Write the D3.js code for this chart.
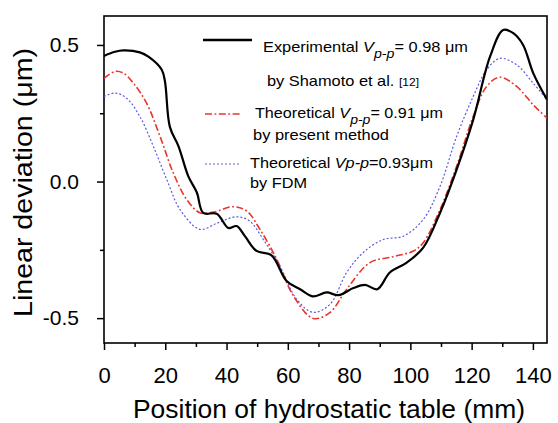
<!DOCTYPE html>
<html>
<head>
<meta charset="utf-8">
<script src="https://cdn.jsdelivr.net/npm/d3@7"></script>
<style>
  body { margin: 0; background: #fff; }
  svg { font-family: "Liberation Sans", Arial, sans-serif; }
</style>
</head>
<body>
<div id="chart"></div>
<script>
// data (x = position in mm, y = deviation in um)
var expX = [0, 3.6, 6.3, 11.7, 14.5, 18.8, 19.9, 21.5, 24.3, 27.5, 30.3, 32.4, 36.8, 40.6, 43.3, 46, 49.8, 54.7, 59.6, 64, 68.1, 72.7, 76.5, 81.4, 85.2, 89.2, 93.3, 98.8, 104.2, 109.7, 115.1, 120.5, 126, 130.3, 133.6, 136.8, 140.1, 144.6];
var expY = [0.46, 0.475, 0.48, 0.473, 0.457, 0.41, 0.366, 0.20, 0.13, 0.02, -0.04, -0.115, -0.118, -0.17, -0.163, -0.2, -0.254, -0.27, -0.364, -0.394, -0.42, -0.406, -0.416, -0.39, -0.378, -0.394, -0.333, -0.297, -0.242, -0.114, 0.044, 0.226, 0.457, 0.555, 0.543, 0.5, 0.397, 0.30];

var presX = [0, 3.6, 6.3, 9.6, 13.9, 18.3, 22.6, 27, 31.3, 35.7, 42.2, 46.6, 50.9, 56.4, 61.8, 68.3, 73.8, 79.2, 86.8, 94.4, 101, 104.2, 109.7, 115.1, 120.5, 124.9, 129.2, 134.7, 140.1, 144.6];
var presY = [0.378, 0.403, 0.397, 0.36, 0.287, 0.165, 0.032, -0.066, -0.114, -0.112, -0.092, -0.108, -0.175, -0.285, -0.418, -0.501, -0.479, -0.394, -0.297, -0.275, -0.254, -0.224, -0.102, 0.056, 0.238, 0.348, 0.382, 0.348, 0.281, 0.232];

var fdmX = [0, 3.6, 7.4, 11.7, 16.1, 20.5, 24.8, 31.3, 36.8, 43.3, 47.6, 52, 57.4, 62.9, 68.3, 73.8, 79.2, 84.6, 91.2, 97.7, 104.2, 109.7, 115.1, 120.5, 124.9, 129.2, 134.7, 140.1, 144.6];
var fdmY = [0.311, 0.324, 0.305, 0.238, 0.129, 0.007, -0.102, -0.175, -0.153, -0.129, -0.145, -0.212, -0.309, -0.431, -0.479, -0.449, -0.333, -0.26, -0.212, -0.2, -0.139, -0.017, 0.165, 0.311, 0.409, 0.451, 0.427, 0.36, 0.30];

var xMajorTicks = [0, 20, 40, 60, 80, 100, 120, 140];
var xMinorTicks = [10, 30, 50, 70, 90, 110, 130];
var yMajorTicks = [-0.5, 0.0, 0.5];
var yMinorTicks = [-0.25, 0.25];

var xTitle = "Position of hydrostatic table (mm)";
var yTitle = "Linear deviation (\u03bcm)";

var margin = {top: 16, right: 11, bottom: 80, left: 104};
var W = 558, H = 423;
var width = W - margin.left - margin.right;
var height = H - margin.top - margin.bottom;

var svg = d3.select("#chart").append("svg")
    .attr("width", W)
    .attr("height", H);

var x = d3.scaleLinear().domain([0, 144.6]).range([margin.left, margin.left + width]);
var y = d3.scaleLinear().domain([-0.591, 0.606]).range([margin.top + height, margin.top]);

// ticks (outward, bottom + left only)
var xAxis = svg.append("g")
    .attr("transform", "translate(0," + (margin.top + height) + ")")
    .call(d3.axisBottom(x).tickValues(xMajorTicks).tickSize(7).tickSizeOuter(0).tickPadding(17).tickFormat(d3.format("d")));
var xMinor = svg.append("g")
    .attr("transform", "translate(0," + (margin.top + height) + ")")
    .call(d3.axisBottom(x).tickValues(xMinorTicks).tickSize(4).tickSizeOuter(0).tickFormat(""));
var yAxis = svg.append("g")
    .attr("transform", "translate(" + margin.left + ",0)")
    .call(d3.axisLeft(y).tickValues(yMajorTicks).tickSize(7).tickSizeOuter(0).tickPadding(18).tickFormat(function(d){ return d.toFixed(1); }));
var yMinor = svg.append("g")
    .attr("transform", "translate(" + margin.left + ",0)")
    .call(d3.axisLeft(y).tickValues(yMinorTicks).tickSize(4).tickSizeOuter(0).tickFormat(""));

[xAxis, xMinor, yAxis, yMinor].forEach(function(a){
    a.select(".domain").remove();
    a.selectAll("line").attr("stroke", "#000").attr("stroke-width", 1.5);
    a.selectAll("text").attr("fill", "#000").attr("font-family", "Liberation Sans, Arial, sans-serif");
});
xAxis.selectAll("text").attr("font-size", 22);
yAxis.selectAll("text").attr("font-size", 21);

// frame
svg.append("rect")
    .attr("x", margin.left).attr("y", margin.top)
    .attr("width", width).attr("height", height)
    .attr("fill", "none").attr("stroke", "#000").attr("stroke-width", 1.6);

// curves
var line = d3.line()
    .x(function(d){ return x(d[0]); })
    .y(function(d){ return y(d[1]); })
    .curve(d3.curveCatmullRom.alpha(0.5));

function zip(a, b){ return a.map(function(v, i){ return [v, b[i]]; }); }

var clip = svg.append("clipPath").attr("id", "clip").append("rect")
    .attr("x", margin.left).attr("y", margin.top).attr("width", width).attr("height", height);

var plot = svg.append("g").attr("clip-path", "url(#clip)");

plot.append("path")
    .datum(zip(fdmX, fdmY))
    .attr("d", line)
    .attr("fill", "none")
    .attr("stroke", "#5b5be0")
    .attr("stroke-width", 1.2)
    .attr("stroke-dasharray", "2,2");

plot.append("path")
    .datum(zip(presX, presY))
    .attr("d", line)
    .attr("fill", "none")
    .attr("stroke", "#e8352d")
    .attr("stroke-width", 1.6)
    .attr("stroke-dasharray", "7,2.5,1.8,2.5");

plot.append("path")
    .datum(zip(expX, expY))
    .attr("d", line)
    .attr("fill", "none")
    .attr("stroke", "#000")
    .attr("stroke-width", 2.2);

// axis titles
svg.append("text")
    .attr("x", 329).attr("y", 418)
    .attr("text-anchor", "middle")
    .attr("font-size", 26)
    .attr("textLength", 392).attr("lengthAdjust", "spacingAndGlyphs")
    .text(xTitle);

svg.append("text")
    .attr("transform", "translate(32,182.5) rotate(-90)")
    .attr("text-anchor", "middle")
    .attr("font-size", 25)
    .attr("textLength", 269).attr("lengthAdjust", "spacingAndGlyphs")
    .text(yTitle);

// legend
var leg = svg.append("g").attr("font-size", 15).attr("fill", "#000");

leg.append("line").attr("x1", 203).attr("x2", 252).attr("y1", 40).attr("y2", 40)
    .attr("stroke", "#000").attr("stroke-width", 2.4);
leg.append("line").attr("x1", 205).attr("x2", 241).attr("y1", 114).attr("y2", 114)
    .attr("stroke", "#e8352d").attr("stroke-width", 1.6).attr("stroke-dasharray", "7,2.5,1.8,2.5");
leg.append("line").attr("x1", 205).attr("x2", 241).attr("y1", 164).attr("y2", 164)
    .attr("stroke", "#5b5be0").attr("stroke-width", 1.2).attr("stroke-dasharray", "2,2");

function vppLine(xp, yp, len, value){
    var t = leg.append("text").attr("x", xp).attr("y", yp)
        .attr("textLength", len).attr("lengthAdjust", "spacingAndGlyphs");
    t.append("tspan").text("Theoretical ");
    t.append("tspan").attr("font-style", "italic").text("V");
    t.append("tspan").attr("font-style", "italic").attr("font-size", 13).attr("dy", 6).text("p-p");
    t.append("tspan").attr("dy", -6).text(value);
    return t;
}

var t1 = vppLine(263, 52, 205, "= 0.98 \u03bcm");
t1.select("tspan").text("Experimental ");

var t2 = leg.append("text").attr("x", 267).attr("y", 86)
    .attr("textLength", 152).attr("lengthAdjust", "spacingAndGlyphs");
t2.append("tspan").text("by Shamoto et al. ");
t2.append("tspan").attr("font-size", 11).text("[12]");

vppLine(255, 118, 188, "= 0.91 \u03bcm");

leg.append("text").attr("x", 253).attr("y", 140)
    .attr("textLength", 136).attr("lengthAdjust", "spacingAndGlyphs")
    .text("by present method");

var t5 = leg.append("text").attr("x", 250).attr("y", 168)
    .attr("textLength", 183).attr("lengthAdjust", "spacingAndGlyphs");
t5.append("tspan").text("Theoretical ");
t5.append("tspan").attr("font-style", "italic").text("Vp-p");
t5.append("tspan").text("=0.93\u03bcm");

leg.append("text").attr("x", 250).attr("y", 188)
    .attr("textLength", 57).attr("lengthAdjust", "spacingAndGlyphs")
    .text("by FDM");
</script>
</body>
</html>
